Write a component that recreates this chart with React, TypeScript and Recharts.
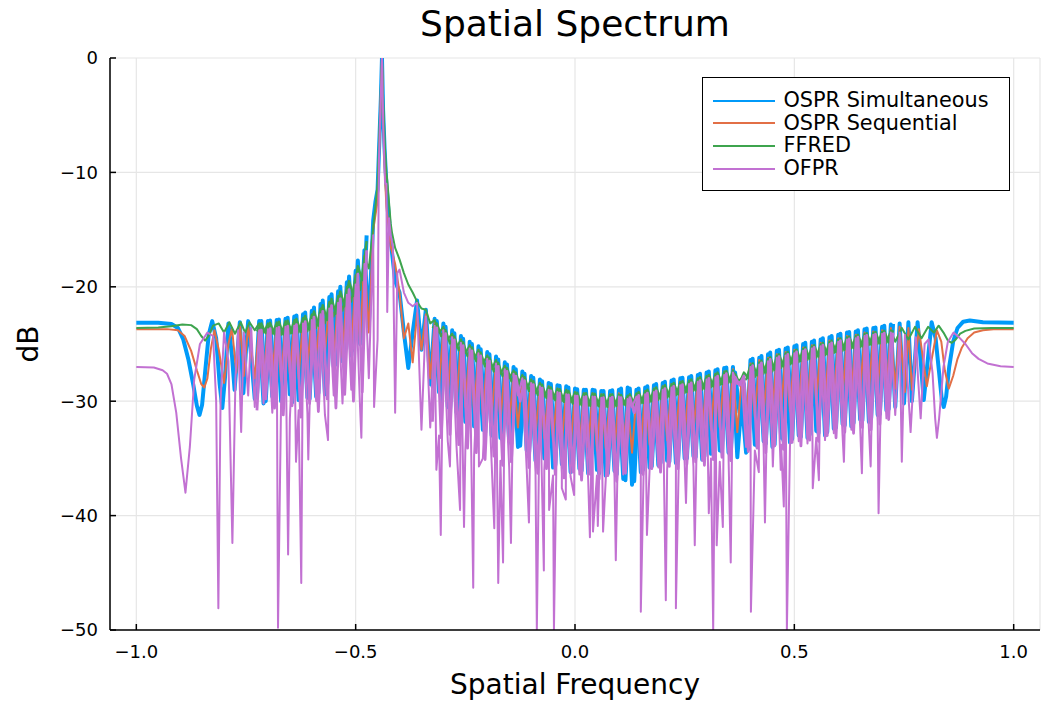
import { CartesianGrid, Legend, Line, LineChart, XAxis, YAxis } from "recharts";

const FONT = "'DejaVu Sans', sans-serif";

const xTicks = [-1, -0.5, 0, 0.5, 1];
const yTicks = [-50, -40, -30, -20, -10, 0];

type Pair = [number, number];

// shared frequency grid for the dense oscillating part (peaks on even, troughs on odd hundredths)
const bandFreq = [
  -0.73, -0.72, -0.71, -0.7, -0.69, -0.68, -0.67, -0.66, -0.65, -0.64,
  -0.63, -0.62, -0.61, -0.6, -0.59, -0.58, -0.57, -0.56, -0.55, -0.54,
  -0.53, -0.52, -0.51, -0.5, -0.49, -0.48, -0.47, -0.46, -0.45, -0.44,
  -0.43, -0.42, -0.41, -0.4, -0.39, -0.38, -0.37, -0.36, -0.35, -0.34,
  -0.33, -0.32, -0.31, -0.3, -0.29, -0.28, -0.27, -0.26, -0.25, -0.24,
  -0.23, -0.22, -0.21, -0.2, -0.19, -0.18, -0.17, -0.16, -0.15, -0.14,
  -0.13, -0.12, -0.11, -0.1, -0.09, -0.08, -0.07, -0.06, -0.05, -0.04,
  -0.03, -0.02, -0.01, 0, 0.01, 0.02, 0.03, 0.04, 0.05, 0.06,
  0.07, 0.08, 0.09, 0.1, 0.11, 0.12, 0.13, 0.14, 0.15, 0.16,
  0.17, 0.18, 0.19, 0.2, 0.21, 0.22, 0.23, 0.24, 0.25, 0.26,
  0.27, 0.28, 0.29, 0.3, 0.31, 0.32, 0.33, 0.34, 0.35, 0.36,
  0.37, 0.38, 0.39, 0.4, 0.41, 0.42, 0.43, 0.44, 0.45, 0.46,
  0.47, 0.48, 0.49, 0.5, 0.51, 0.52, 0.53, 0.54, 0.55, 0.56,
  0.57, 0.58, 0.59, 0.6, 0.61, 0.62, 0.63, 0.64, 0.65, 0.66,
  0.67, 0.68, 0.69, 0.7, 0.71, 0.72, 0.73,
];

// second, quarter-shifted set of ripples (left of the main lobe, and right of it)
const halfFreqLeft = [
  -0.725, -0.715, -0.705, -0.695, -0.685, -0.675, -0.665, -0.655, -0.645, -0.635,
  -0.625, -0.615, -0.605, -0.595, -0.585, -0.575, -0.565, -0.555, -0.545, -0.535,
  -0.525, -0.515, -0.505, -0.495, -0.485, -0.475,
];
const halfFreqRight = [
  -0.325, -0.315, -0.305, -0.295, -0.285, -0.275, -0.265, -0.255, -0.245, -0.235,
  -0.225, -0.215, -0.205, -0.195, -0.185, -0.175, -0.165, -0.155, -0.145, -0.135,
  -0.125, -0.115, -0.105, -0.095, -0.085, -0.075, -0.065, -0.055, -0.045, -0.035,
  -0.025, -0.015, -0.005, 0.005, 0.015, 0.025, 0.035, 0.045, 0.055, 0.065,
  0.075, 0.085, 0.095, 0.105, 0.115, 0.125, 0.135, 0.145, 0.155, 0.165,
  0.175, 0.185, 0.195, 0.205, 0.215, 0.225, 0.235, 0.245, 0.255, 0.265,
  0.275, 0.285, 0.295, 0.305, 0.315, 0.325, 0.335, 0.345, 0.355, 0.365,
  0.375, 0.385, 0.395, 0.405, 0.415, 0.425, 0.435, 0.445, 0.455, 0.465,
  0.475, 0.485, 0.495, 0.505, 0.515, 0.525, 0.535, 0.545, 0.555, 0.565,
  0.575, 0.585, 0.595, 0.605, 0.615, 0.625, 0.635, 0.645, 0.655, 0.665,
  0.675, 0.685, 0.695, 0.705, 0.715, 0.725,
];

// OSPR Simultaneous
const simBand = [
  -29.8, -23.0, -30.2, -23.0, -29.6, -22.9, -30.0, -22.8, -29.4, -22.6,
  -29.9, -22.4, -29.7, -22.1, -29.6, -21.5, -29.4, -20.9, -27.0, -20.4,
  -26.5, -19.6, -26.0, -18.6, -25.0, -16.8, -23.5, -14.2, -11.5, 0,
  -11.0, -16.0, -19.5, -20.5, -24.0, -27.1, -24.0, -21.2, -25.5, -22.0,
  -28.5, -22.8, -29.2, -23.2, -30.5, -23.8, -31.0, -24.3, -31.8, -24.8,
  -32.2, -25.2, -32.5, -25.7, -33.0, -26.1, -33.2, -26.6, -33.5, -27.0,
  -34.0, -27.4, -34.3, -27.8, -35.2, -28.1, -35.0, -28.4, -35.8, -28.6,
  -35.5, -28.7, -36.2, -28.9, -35.9, -29.0, -36.3, -29.0, -36.0, -29.1,
  -36.5, -29.1, -36.1, -29.0, -36.8, -28.8, -37.3, -29.0, -36.2, -28.8,
  -35.8, -28.6, -35.6, -28.4, -35.2, -28.2, -35.4, -28.0, -35.0, -27.9,
  -34.8, -27.7, -35.1, -27.5, -34.6, -27.3, -34.3, -27.1, -34.5, -27.0,
  -34.9, -29.9, -34.5, -26.4, -33.8, -26.2, -33.5, -25.9, -34.0, -25.6,
  -33.2, -25.4, -33.6, -25.2, -33.0, -25.0, -33.2, -24.8, -32.6, -24.6,
  -33.0, -24.4, -32.4, -24.2, -32.0, -24.0, -32.2, -23.9, -31.6, -23.7,
  -31.8, -23.6, -31.2, -23.5, -30.8, -23.3, -30.5,
];
const simHalfLeft = [
  -29.5, -23.0, -30.0, -22.95, -29.8, -22.85, -29.5, -22.7, -30.1, -22.5,
  -29.6, -22.25, -29.8, -21.8, -29.3, -21.2, -28.5, -20.65, -26.8, -20.0,
  -26.3, -19.1, -25.5, -17.7, -24.5, -15.5,
];
const simHalfRight = [
  -28.8, -23.0, -30.0, -23.5, -30.8, -24.05, -31.4, -24.55, -32.0, -25.0,
  -32.4, -25.45, -32.8, -25.9, -33.1, -26.35, -33.4, -26.8, -33.7, -27.2,
  -33.9, -27.6, -34.6, -27.95, -35.0, -28.25, -35.4, -28.5, -35.6, -28.65,
  -35.8, -28.8, -36.0, -28.95, -36.1, -29.0, -36.2, -29.05, -36.3, -29.1,
  -36.3, -29.05, -36.4, -28.9, -36.9, -28.9, -37.0, -28.9, -36.0, -28.7,
  -35.7, -28.5, -35.4, -28.3, -35.3, -28.1, -35.2, -27.95, -35.0, -27.8,
  -34.9, -27.6, -34.8, -27.4, -34.5, -27.2, -34.4, -27.05, -34.6, -27.5,
  -31.0, -28.5, -34.2, -26.3, -33.9, -26.05, -33.7, -25.75, -33.8, -25.5,
  -33.4, -25.3, -33.3, -25.1, -33.1, -24.9, -32.9, -24.7, -32.8, -24.5,
  -32.7, -24.3, -32.3, -24.1, -32.1, -23.95, -31.9, -23.8, -31.7, -23.65,
  -31.5, -23.55, -31.1, -23.4, -30.7, -23.25,
];
const simLeft: Pair[] = [
  [-1.0, -23.15], [-0.95, -23.15], [-0.92, -23.25], [-0.905, -23.6], [-0.893, -24.6],
  [-0.881, -26.4], [-0.87, -28.6], [-0.862, -30.4], [-0.856, -31.2], [-0.85, -30.3],
  [-0.843, -27.4], [-0.835, -24.2], [-0.827, -23.0], [-0.818, -24.5], [-0.81, -28.5],
  [-0.804, -30.6], [-0.798, -28.0], [-0.79, -23.2], [-0.782, -26.0], [-0.776, -29.0],
  [-0.769, -25.5], [-0.764, -23.1], [-0.76, -26.5], [-0.756, -29.3], [-0.75, -25.5],
  [-0.745, -23.0],
];
const simPeak: Pair[] = [
  [-0.455, -12.6], [-0.447, -8.3], [-0.4425, -3.5], [-0.4375, -4.5], [-0.434, -8.0],
];
const simRight: Pair[] = [
  [0.74, -23.2], [0.75, -30.2], [0.76, -23.1], [0.768, -30.0], [0.781, -23.1],
  [0.795, -29.9], [0.813, -23.1], [0.822, -24.5], [0.83, -27.5], [0.836, -29.8],
  [0.8405, -30.5], [0.846, -29.6], [0.853, -27.0], [0.862, -24.8], [0.872, -23.6],
  [0.885, -23.05], [0.9, -22.95], [0.93, -23.1], [1.0, -23.15],
];

// OSPR Sequential
const seqBand = [
  -28.0, -23.4, -28.3, -23.3, -27.8, -23.2, -28.2, -23.1, -27.6, -23.0,
  -28.0, -22.8, -27.2, -22.5, -26.0, -22.0, -25.8, -21.4, -26.5, -20.8,
  -26.2, -20.0, -25.6, -19.0, -25.0, -17.3, -24.0, -15.0, -12.5, 0,
  -13.0, -16.5, -18.0, -20.5, -24.5, -23.2, -26.6, -22.3, -25.5, -22.4,
  -28.0, -23.1, -28.8, -23.5, -29.5, -24.1, -30.2, -24.6, -30.5, -25.1,
  -31.0, -25.5, -31.2, -26.0, -31.5, -26.4, -31.8, -26.9, -32.0, -27.5,
  -32.3, -27.8, -32.6, -28.1, -33.0, -28.4, -33.2, -28.7, -33.5, -28.9,
  -33.8, -29.0, -34.0, -29.2, -34.2, -29.3, -34.0, -29.3, -34.3, -29.4,
  -34.1, -29.4, -34.4, -29.3, -34.0, -30.0, -34.5, -29.6, -34.0, -29.1,
  -33.8, -28.9, -33.6, -28.7, -33.4, -28.5, -33.3, -28.3, -33.0, -28.2,
  -32.8, -28.0, -32.9, -27.8, -32.5, -27.6, -32.3, -27.4, -32.0, -27.2,
  -32.7, -28.0, -31.5, -26.7, -31.4, -26.4, -31.2, -26.2, -31.0, -25.9,
  -30.8, -25.7, -30.9, -25.5, -30.5, -25.3, -30.4, -25.1, -30.2, -24.9,
  -30.0, -24.7, -29.8, -24.5, -29.6, -24.3, -29.5, -24.2, -29.3, -24.0,
  -29.2, -23.9, -29.0, -23.8, -29.1, -23.6, -28.9,
];
const seqLeft: Pair[] = [
  [-1.0, -23.7], [-0.93, -23.7], [-0.905, -23.8], [-0.89, -24.3], [-0.875, -25.6],
  [-0.862, -27.3], [-0.852, -28.5], [-0.845, -28.8], [-0.838, -28.0], [-0.83, -25.4],
  [-0.822, -23.8], [-0.812, -25.5], [-0.8, -28.4], [-0.79, -25.0], [-0.782, -23.6],
  [-0.772, -27.5], [-0.763, -23.5], [-0.755, -27.8], [-0.745, -23.4],
];
const seqPeak: Pair[] = [[-0.446, -8.0], [-0.442, -3.0], [-0.438, -3.5], [-0.435, -8.5]];
const seqRight: Pair[] = [
  [0.74, -23.5], [0.752, -29.2], [0.76, -23.6], [0.768, -29.0], [0.784, -23.7],
  [0.802, -28.7], [0.825, -23.8], [0.835, -24.8], [0.843, -27.3], [0.852, -28.9],
  [0.862, -27.8], [0.872, -26.3], [0.882, -25.3], [0.895, -24.5], [0.91, -24.0],
  [0.93, -23.8], [0.96, -23.7], [1.0, -23.7],
];

// FFRED
const ffredBand = [
  -23.8, -23.2, -24.0, -23.2, -24.1, -23.1, -24.2, -23.0, -24.1, -22.9,
  -24.0, -22.7, -23.9, -22.4, -23.6, -21.9, -23.2, -21.3, -22.6, -20.8,
  -22.1, -20.0, -21.3, -19.0, -20.3, -17.3, -18.4, -14.8, -11.0, 0,
  -10.0, -14.5, -16.6, -17.6, -18.8, -19.8, -20.5, -21.3, -21.9, -22.0,
  -23.2, -22.9, -24.0, -23.5, -24.6, -24.1, -25.3, -24.6, -25.8, -25.1,
  -26.3, -25.5, -26.7, -26.0, -27.2, -26.4, -27.6, -26.9, -28.0, -27.3,
  -28.5, -27.7, -28.9, -28.1, -29.3, -28.4, -29.6, -28.7, -29.8, -28.9,
  -30.0, -29.0, -30.1, -29.2, -30.3, -29.3, -30.4, -29.3, -30.4, -29.4,
  -30.5, -29.4, -30.5, -29.4, -30.3, -29.5, -30.4, -29.3, -30.2, -29.1,
  -30.1, -28.9, -29.9, -28.7, -29.7, -28.5, -29.5, -28.3, -29.3, -28.2,
  -29.1, -28.0, -29.0, -27.8, -28.8, -27.6, -28.6, -27.4, -28.4, -27.3,
  -28.3, -28.0, -28.1, -26.8, -27.9, -26.6, -27.6, -26.3, -27.4, -26.0,
  -27.1, -25.8, -26.8, -25.6, -26.6, -25.4, -26.4, -25.2, -26.2, -25.0,
  -26.0, -24.8, -25.8, -24.6, -25.6, -24.4, -25.4, -24.3, -25.3, -24.1,
  -25.1, -24.0, -25.0, -23.9, -24.9, -23.8, -24.8,
];
const ffredHalfLeft = [
  -23.9, -23.2, -24.05, -23.15, -24.15, -23.05, -24.15, -22.95, -24.05, -22.8,
  -23.95, -22.55, -23.75, -22.15, -23.4, -21.6, -22.9, -21.05, -22.35, -20.4,
  -21.7, -19.5, -20.8, -18.2, -19.4, -16.0,
];
const ffredHalfRight = [
  -23.6, -23.2, -24.3, -23.8, -24.95, -24.35, -25.55, -24.85, -26.05, -25.3,
  -26.5, -25.75, -26.95, -26.2, -27.4, -26.65, -27.8, -27.1, -28.25, -27.5,
  -28.7, -27.9, -29.1, -28.25, -29.45, -28.55, -29.7, -28.8, -29.9, -28.95,
  -30.05, -29.1, -30.2, -29.25, -30.35, -29.3, -30.4, -29.35, -30.45, -29.4,
  -30.5, -29.4, -30.4, -29.45, -30.35, -29.4, -30.3, -29.2, -30.15, -29.0,
  -30.0, -28.8, -29.8, -28.6, -29.6, -28.4, -29.4, -28.25, -29.2, -28.1,
  -29.05, -27.9, -28.9, -27.7, -28.7, -27.5, -28.5, -27.35, -28.35, -27.6,
  -28.4, -27.5, -28.0, -26.7, -27.75, -26.45, -27.5, -26.15, -27.25, -25.9,
  -26.95, -25.7, -26.7, -25.5, -26.5, -25.3, -26.3, -25.1, -26.1, -24.9,
  -25.9, -24.7, -25.7, -24.5, -25.5, -24.35, -25.35, -24.2, -25.2, -24.05,
  -25.05, -23.95, -24.95, -23.85, -24.85, -23.8,
];
const ffredLeft: Pair[] = [
  [-1.0, -23.6], [-0.95, -23.55], [-0.92, -23.45], [-0.895, -23.3], [-0.875, -23.35],
  [-0.862, -23.7], [-0.852, -24.3], [-0.843, -24.7], [-0.834, -24.2], [-0.825, -23.4],
  [-0.812, -23.2], [-0.8, -24.0], [-0.788, -23.1], [-0.775, -24.1], [-0.762, -23.1],
  [-0.752, -24.0], [-0.742, -23.1],
];
const ffredPeak: Pair[] = [
  [-0.455, -13.0], [-0.447, -7.5], [-0.443, -3.0], [-0.437, -4.0], [-0.433, -8.0],
  [-0.428, -10.7], [-0.417, -15.3], [-0.405, -17.1],
];
const ffredRight: Pair[] = [
  [0.745, -23.6], [0.76, -24.6], [0.775, -23.5], [0.79, -24.5], [0.805, -23.5],
  [0.818, -24.0], [0.829, -23.4], [0.84, -24.0], [0.85, -24.7], [0.859, -24.9],
  [0.868, -24.6], [0.878, -24.1], [0.89, -23.85], [0.91, -23.65], [0.95, -23.6],
  [1.0, -23.6],
];

// OFPR
const ofprBand = [
  -30.5, -23.8, -30.2, -23.7, -31.0, -23.6, -30.0, -23.5, -31.5, -23.4,
  -30.8, -23.2, -31.0, -22.9, -30.0, -22.4, -31.2, -21.9, -29.5, -21.4,
  -30.2, -20.7, -29.0, -19.8, -30.5, -18.0, -28.0, -15.5, -24.6, 0,
  -11.0, -15.5, -31.0, -18.5, -20.5, -21.4, -21.7, -21.4, -32.5, -22.6,
  -32.3, -23.4, -33.0, -23.8, -33.5, -24.4, -34.0, -24.9, -34.3, -25.4,
  -34.8, -25.8, -35.0, -26.3, -35.4, -26.7, -35.2, -27.2, -35.8, -27.6,
  -29.5, -28.0, -36.0, -28.4, -36.2, -28.7, -36.0, -29.0, -36.5, -29.2,
  -36.3, -29.4, -36.6, -29.5, -36.4, -29.6, -36.8, -29.6, -36.5, -29.7,
  -36.9, -29.7, -36.6, -29.6, -36.4, -29.8, -30.5, -29.6, -36.2, -29.4,
  -36.0, -29.2, -35.8, -29.0, -36.0, -28.8, -35.6, -28.6, -35.4, -28.5,
  -35.7, -28.3, -35.2, -28.1, -35.0, -27.9, -35.3, -27.7, -34.8, -27.5,
  -28.5, -28.2, -34.0, -27.0, -34.3, -26.8, -34.0, -26.5, -34.2, -26.2,
  -33.8, -26.0, -34.0, -25.8, -33.5, -25.6, -33.7, -25.4, -33.2, -25.2,
  -33.4, -25.0, -32.8, -24.8, -33.0, -24.6, -32.5, -24.5, -32.2, -24.3,
  -32.4, -24.2, -31.8, -24.1, -31.5, -24.0, -31.2,
];
const ofprHalfLeft = [
  -30.8, -23.8, -29.8, -23.65, -30.6, -23.55, -31.2, -23.45, -30.4, -23.3,
  -31.4, -23.05, -30.2, -22.65, -30.9, -22.15, -29.8, -21.65, -30.6, -21.05,
  -29.4, -20.25, -30.0, -18.9, -29.2, -16.8,
];
const ofprHalfRight = [
  -31.8, -23.6, -33.2, -24.1, -32.9, -24.65, -33.8, -25.15, -34.1, -25.6,
  -34.5, -26.05, -35.1, -26.5, -34.8, -26.95, -35.6, -27.4, -35.3, -27.8,
  -30.0, -28.2, -35.8, -28.55, -36.3, -28.85, -35.9, -29.1, -36.4, -29.3,
  -36.7, -29.45, -36.2, -29.55, -36.9, -29.6, -36.4, -29.65, -36.8, -29.7,
  -36.5, -29.65, -37.0, -29.7, -36.3, -29.7, -31.0, -29.5, -36.4, -29.3,
  -35.9, -29.1, -36.2, -28.9, -35.7, -28.7, -35.9, -28.55, -35.5, -28.4,
  -35.3, -28.2, -35.6, -28.0, -35.1, -27.8, -34.9, -27.6, -35.2, -27.9,
  -28.6, -27.8, -34.4, -26.9, -34.1, -26.65, -34.5, -26.35, -33.9, -26.1,
  -34.2, -25.9, -33.6, -25.7, -33.9, -25.5, -33.4, -25.3, -33.5, -25.1,
  -33.0, -24.9, -33.2, -24.7, -32.7, -24.55, -32.8, -24.4, -32.3, -24.25,
  -32.5, -24.15, -32.0, -24.05, -31.6, -24.0,
];
const ofprLeft: Pair[] = [
  [-1.0, -27.0], [-0.96, -27.05], [-0.94, -27.3], [-0.93, -27.6], [-0.92, -28.5],
  [-0.909, -31.0], [-0.898, -35.0], [-0.888, -38.0], [-0.878, -34.0], [-0.868, -28.1],
  [-0.855, -25.0], [-0.838, -24.0], [-0.825, -24.3], [-0.818, -30.0], [-0.813, -48.1],
  [-0.808, -30.0], [-0.8, -24.0], [-0.79, -26.5], [-0.781, -42.4], [-0.774, -28.0],
  [-0.768, -23.8], [-0.761, -32.7], [-0.755, -24.0], [-0.745, -29.5], [-0.738, -23.6],
];
const ofprPeak: Pair[] = [
  [-0.487, -33.2], [-0.458, -30.5], [-0.447, -9.0], [-0.443, -3.5], [-0.437, -6.0],
  [-0.433, -11.0], [-0.428, -22.2], [-0.424, -14.0], [-0.415, -16.5], [-0.405, -18.8],
];
const ofprSpikes: Pair[] = [
  [-0.677, -49.8], [-0.654, -43.4], [-0.636, -35.3], [-0.624, -45.9], [-0.608, -35.1],
  [-0.563, -33.4], [-0.316, -36.0], [-0.306, -41.7], [-0.285, -35.7], [-0.262, -39.5],
  [-0.253, -41.0], [-0.232, -46.3], [-0.219, -35.7], [-0.184, -41.1], [-0.175, -45.9],
  [-0.164, -44.1], [-0.146, -42.4], [-0.105, -40.6], [-0.087, -50.0], [-0.071, -44.8],
  [-0.059, -39.5], [-0.048, -50.0], [-0.03, -37.6], [-0.021, -38.6], [-0.002, -38.2],
  [0.034, -41.9], [0.041, -41.4], [0.052, -40.9], [0.064, -41.4], [0.093, -43.9],
  [0.15, -48.4], [0.164, -41.7], [0.207, -47.4], [0.23, -48.1], [0.253, -38.9],
  [0.273, -42.6], [0.305, -39.8], [0.315, -50.0], [0.323, -42.6], [0.337, -41.0],
  [0.355, -44.1], [0.401, -48.4], [0.419, -36.2], [0.433, -40.6], [0.451, -35.7],
  [0.469, -36.0], [0.476, -39.2], [0.483, -50.0], [0.542, -37.6], [0.556, -36.9],
  [0.613, -35.3], [0.654, -36.3], [0.674, -35.7], [0.692, -39.8],
];
const ofprRight: Pair[] = [
  [0.74, -24.0], [0.745, -35.3], [0.752, -24.2], [0.765, -32.7], [0.777, -24.4],
  [0.782, -28.0], [0.788, -31.5], [0.797, -25.0], [0.806, -24.6], [0.815, -27.5],
  [0.821, -31.5], [0.825, -33.2], [0.83, -31.5], [0.84, -27.0], [0.85, -24.8],
  [0.863, -24.0], [0.875, -24.4], [0.89, -25.0], [0.905, -25.8], [0.92, -26.3],
  [0.94, -26.7], [0.97, -26.95], [1.0, -27.0],
];

const zip = (xs: number[], values: number[]): Pair[] => xs.map((x, i) => [x, values[i]]);

function buildSeries(...parts: Pair[][]) {
  return parts
    .flat()
    .sort((a, b) => a[0] - b[0])
    .map(([x, y]) => ({ x, y }));
}

// each series: main trace plus the interleaved ripple traces (drawn in the same colour)
const series = [
  {
    name: "OSPR Simultaneous",
    color: "#009af9",
    parts: [
      { w: 4, data: buildSeries(simLeft, zip(bandFreq, simBand), simPeak, simRight) },
      { w: 4, data: buildSeries(zip(halfFreqLeft, simHalfLeft)) },
      { w: 4, data: buildSeries(zip(halfFreqRight, simHalfRight)) },
    ],
  },
  {
    name: "OSPR Sequential",
    color: "#e26f46",
    parts: [{ w: 2, data: buildSeries(seqLeft, zip(bandFreq, seqBand), seqPeak, seqRight) }],
  },
  {
    name: "FFRED",
    color: "#3ea44e",
    parts: [
      { w: 2, data: buildSeries(ffredLeft, zip(bandFreq, ffredBand), ffredPeak, ffredRight) },
      { w: 2.4, data: buildSeries(zip(halfFreqLeft, ffredHalfLeft)) },
      { w: 2.4, data: buildSeries(zip(halfFreqRight, ffredHalfRight)) },
    ],
  },
  {
    name: "OFPR",
    color: "#c271d2",
    parts: [
      { w: 2, data: buildSeries(ofprLeft, zip(bandFreq, ofprBand), ofprPeak, ofprSpikes, ofprRight) },
      { w: 2.8, data: buildSeries(zip(halfFreqLeft, ofprHalfLeft)) },
      { w: 2.8, data: buildSeries(zip(halfFreqRight, ofprHalfRight)) },
    ],
  },
];

const fmtX = (v: number) => (v < 0 ? "\u2212" : "") + Math.abs(v).toFixed(1);
const fmtY = (v: number) => (v < 0 ? "\u2212" + Math.abs(v) : String(v));

function LegendBox() {
  return (
    <div
      style={{
        position: "relative",
        width: 308,
        height: 114,
        boxSizing: "border-box",
        border: "1.5px solid #000",
        background: "#fff",
        fontFamily: FONT,
        fontSize: 20.8,
        color: "#000",
      }}
    >
      {series.map((s, i) => (
        <div
          key={s.name}
          style={{
            position: "absolute",
            left: 9.5,
            top: 11 + i * 22.7,
            height: 23,
            display: "flex",
            alignItems: "center",
            whiteSpace: "nowrap",
          }}
        >
          <svg width={62} height={4} style={{ display: "block" }}>
            <line x1={0} y1={2} x2={62} y2={2} stroke={s.color} strokeWidth={2} />
          </svg>
          <span style={{ marginLeft: 9, lineHeight: "23px" }}>{s.name}</span>
        </div>
      ))}
    </div>
  );
}

export default function App() {
  const axisStroke = { stroke: "#000", strokeWidth: 1.5 };
  const tickStyle = { fill: "#000", fontSize: 18, fontFamily: FONT };
  return (
    <div style={{ position: "absolute", left: 0, top: 0, width: 1042, height: 702, background: "#fff" }}>
      <LineChart width={1042} height={702} margin={{ top: 58, right: 2, bottom: 32, left: 40 }}>
        <CartesianGrid stroke="#e6e6e6" strokeWidth={1.2} />
        <XAxis
          type="number"
          dataKey="x"
          domain={[-1.06, 1.06]}
          ticks={xTicks}
          tickFormatter={fmtX}
          allowDataOverflow
          height={40}
          axisLine={axisStroke}
          tickLine={axisStroke}
          tickSize={-6}
          tickMargin={21}
          tick={tickStyle}
        />
        <YAxis
          type="number"
          domain={[-50, 0]}
          ticks={yTicks}
          tickFormatter={fmtY}
          allowDataOverflow
          width={70}
          axisLine={axisStroke}
          tickLine={axisStroke}
          tickSize={-6}
          tickMargin={18}
          tick={tickStyle}
        />
        {series.flatMap((s) =>
          s.parts.map((p, j) => (
            <Line
              key={`${s.name}-${j}`}
              data={p.data}
              dataKey="y"
              name={s.name}
              type="linear"
              stroke={s.color}
              strokeWidth={p.w}
              strokeLinejoin="round"
              dot={false}
              activeDot={false}
              isAnimationActive={false}
            />
          ))
        )}
        <Legend
          layout="horizontal"
          verticalAlign="middle"
          align="center"
          wrapperStyle={{ left: 702, top: 77, width: 308, height: 114 }}
          content={() => <LegendBox />}
        />
        <text x={575} y={36} textAnchor="middle" fontSize={36} fontFamily={FONT} fill="#000">
          Spatial Spectrum
        </text>
        <text x={575} y={694} textAnchor="middle" fontSize={28} fontFamily={FONT} fill="#000">
          Spatial Frequency
        </text>
        <text x={38} y={344} transform="rotate(-90 38 344)" textAnchor="middle" fontSize={28} fontFamily={FONT} fill="#000">
          dB
        </text>
      </LineChart>
    </div>
  );
}
